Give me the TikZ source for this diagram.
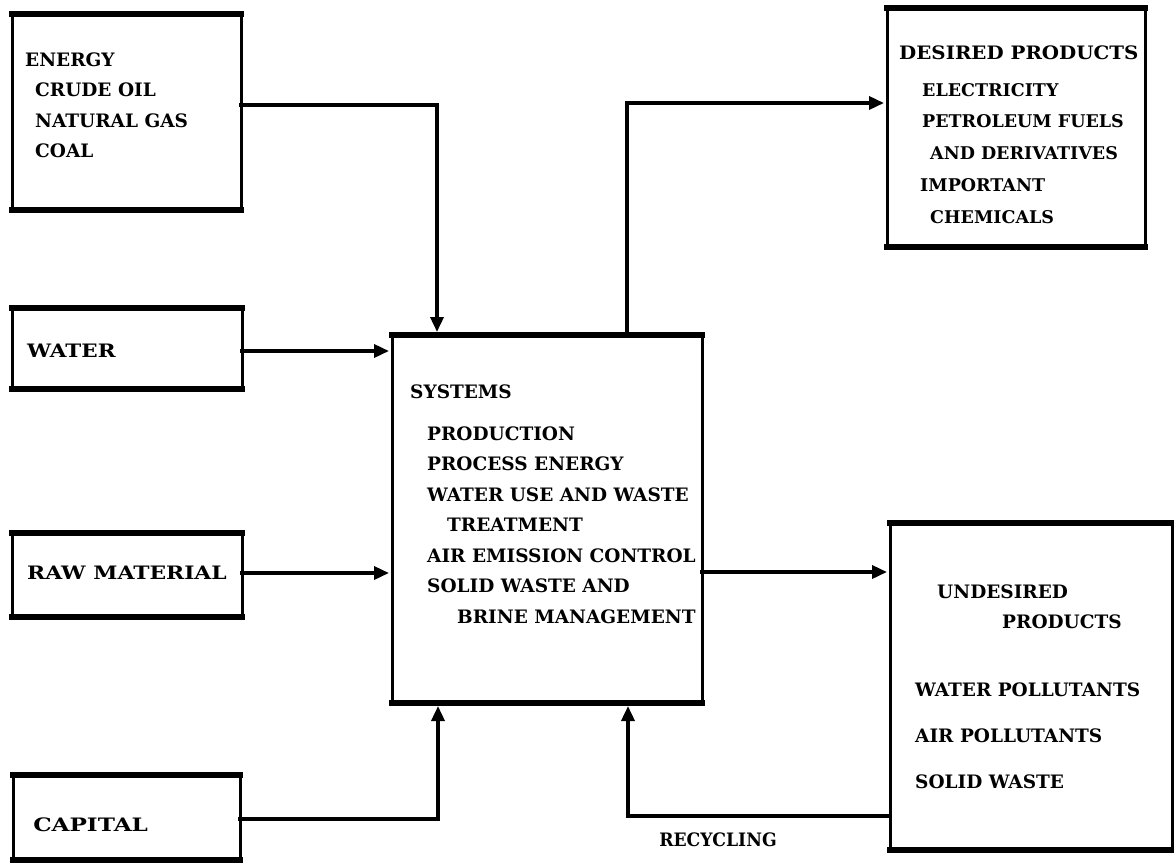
\documentclass[tikz,border=0pt]{standalone}
\usepackage{fontspec}
\setmainfont{DejaVu Serif}
\usetikzlibrary{arrows.meta}

\tikzset{
  box/.style={draw, line width=3pt, inner sep=0pt, outer sep=0pt, fill=none},
  rim/.style={line width=5.5pt, line cap=rect},
  conn/.style={line width=3.5pt, line cap=rect},
  arr/.style={conn, -{Triangle[length=15pt,width=13pt]}, shorten >=3pt},
  txt/.style={inner sep=0pt, align=left, anchor=north west,
    font=\fontsize{18.5}{30.5}\selectfont\bfseries},
  wide/.style={xscale=#1, transform shape},
}

\begin{document}
\begin{tikzpicture}[x=1pt,y=-1pt]
\useasboundingbox (0,0) rectangle (1174,864);

% blocks
\node[box, minimum width=229pt, minimum height=196pt] (energy)    at (126.5,112)   {};
\node[box, minimum width=230pt, minimum height=81pt]  (water)     at (127,348.5)   {};
\node[box, minimum width=230pt, minimum height=84pt]  (raw)       at (127,575)     {};
\node[box, minimum width=227pt, minimum height=85pt]  (capital)   at (126.5,817.5) {};
\node[box, minimum width=310pt, minimum height=368pt] (systems)   at (547,519)     {};
\node[box, minimum width=258pt, minimum height=239pt] (desired)   at (1016,127.5)  {};
\node[box, minimum width=282pt, minimum height=327pt] (undesired) at (1031,686.5)  {};

% heavier top and bottom rules of every block
\foreach \b in {energy,water,raw,capital,systems,desired,undesired}
  \draw[rim] (\b.north west) -- (\b.north east) (\b.south west) -- (\b.south east);

% block texts
\node[txt] (energytxt) at (25,52.5)
  {ENERGY\\\hspace*{10pt}CRUDE OIL\\\hspace*{10pt}NATURAL GAS\\\hspace*{10pt}COAL};
\node[txt, anchor=west, wide=1.16] (watertxt) at (27,351) {WATER};
\node[txt, anchor=west, wide=1.18] (rawtxt) at (27,573) {RAW MATERIAL};
\node[txt, anchor=west, wide=1.25] (capitaltxt) at (33,825) {CAPITAL};

\node[txt] (systemshead) at (410,384.5) {SYSTEMS};
\node[txt] (systemstxt) at (427,426.5)
  {PRODUCTION\\PROCESS ENERGY\\WATER USE AND WASTE\\\hspace*{20pt}TREATMENT\\
   AIR EMISSION CONTROL\\SOLID WASTE AND\\\hspace*{30pt}BRINE MANAGEMENT};

\node[txt, wide=1.07] (desiredhead) at (899,45.5) {DESIRED PRODUCTS};
\node[txt, font=\fontsize{17.5}{31.75}\selectfont\bfseries] (desiredtxt) at (922,83)
  {ELECTRICITY\\PETROLEUM FUELS\\\hspace*{8pt}AND DERIVATIVES\\
   \hspace*{-2pt}IMPORTANT\\\hspace*{8pt}CHEMICALS};

\node[txt, font=\fontsize{18.5}{30}\selectfont\bfseries] (undesiredhead) at (937,584.5)
  {UNDESIRED\\\hspace*{65pt}PRODUCTS};
\node[txt, font=\fontsize{18.5}{46}\selectfont\bfseries] (undesiredtxt) at (915,682.5)
  {WATER POLLUTANTS\\AIR POLLUTANTS\\SOLID WASTE};

% flows into the system
\draw[arr] ([yshift=7pt]energy.east) -| ([xshift=-110pt]systems.north);
\draw[arr] ([yshift=-2.5pt]water.east) -- ([yshift=-2.5pt]water.east -| systems.west);
\draw[arr] ([yshift=2pt]raw.east) -- ([yshift=2pt]raw.east -| systems.west);
\draw[arr] ([yshift=-1.5pt]capital.east) -| ([xshift=-109pt]systems.south);

% flows out of the system
\draw[arr] ([xshift=80pt]systems.north) |- ([yshift=24.5pt]desired.west);
\draw[arr] ([yshift=-53pt]systems.east) -- ([yshift=-53pt]systems.east -| undesired.west);

% recycling loop
\draw[arr] ([yshift=-129.5pt]undesired.west) -| ([xshift=81pt]systems.south);
\node[txt, anchor=center, wide=0.93] (recycling) at (718,840) {RECYCLING};
\end{tikzpicture}
\end{document}
